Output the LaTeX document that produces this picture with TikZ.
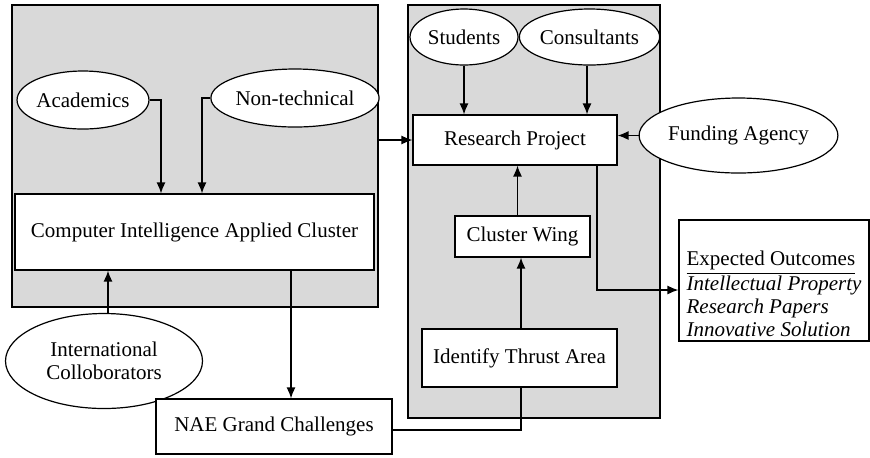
\documentclass[tikz,border=0pt]{standalone}
\usepackage{fontspec}
\setmainfont{Liberation Serif}
\usetikzlibrary{arrows.meta,shapes.geometric}
\definecolor{fondgris}{RGB}{217,217,217}

\begin{document}
\begin{tikzpicture}[x=0.5pt, y=-0.5pt, font=\fontsize{10.5}{11.5}\selectfont,
		panneau/.style={draw, fill=fondgris, line width=0.7pt, inner sep=0pt},
		boite/.style={draw, fill=white, line width=0.6pt, inner sep=0pt, align=center},
		bulle/.style={draw, fill=white, ellipse, line width=0.6pt, inner sep=0pt, align=center},
		fleche/.style={-{Latex[length=5.5pt,width=4.5pt]}, line width=0.65pt}]
	\useasboundingbox (0,0) rectangle (870,457);
	% panneaux gris
	\node[panneau, minimum width=183pt, minimum height=151pt] (gauche) at (195,156) {};
	\node[panneau, minimum width=126pt, minimum height=206.5pt] (droite) at (534,211.5) {};
	% partie gauche
	\node[bulle, minimum width=56.5pt, minimum height=29pt] (academics) at (83,100) {Academics};
	\node[bulle, minimum width=75pt, minimum height=29pt] (nontech) at (295,98) {Non-technical};
	\node[boite, minimum width=179.5pt, minimum height=38pt] (ciac) at (194.5,232) {Computer Intelligence Applied Cluster};
	\node[bulle, minimum width=98.5pt, minimum height=47.5pt] (intl) at (104,361) {International\\Colloborators};
	\node[boite, minimum width=118pt, minimum height=27.5pt] (nae) at (274,426.5) {NAE Grand Challenges};
	% partie droite
	\node[bulle, minimum width=54pt, minimum height=28pt] (students) at (464,37) {Students};
	\node[bulle, minimum width=66.5pt, minimum height=28pt] (consultants) at (589.5,37) {Consultants};
	\node[boite, minimum width=102pt, minimum height=25pt] (rp) at (515,140) {Research Project};
	\node[bulle, minimum width=82.5pt, minimum height=37.5pt] (funding) at (738.5,135.5) {Funding Agency};
	\node[boite, minimum width=67.5pt, minimum height=20.5pt] (wing) at (522.5,236.5) {Cluster Wing};
	\node[boite, minimum width=97.5pt, minimum height=29pt] (thrust) at (519.5,358) {Identify Thrust Area};
	\node[boite, minimum width=95pt, minimum height=60.5pt, align=left] (outcome) at (774,280.5)
		{\raisebox{-8pt}[\height][\depth]{\begin{tabular}{@{}l@{}}\underline{Expected Outcomes}\\
		\itshape Intellectual Property\\ \itshape Research Papers\\ \itshape Innovative Solution\end{tabular}}};
	% liaisons
	\draw[fleche] (academics.east) -| ([xshift=-16.75pt]ciac.north);
	\draw[fleche] (nontech.west) -| ([xshift=3.75pt]ciac.north);
	\draw[fleche] ([xshift=2pt]intl.north) -- ([xshift=2pt]intl.north |- ciac.south);
	\draw[fleche] ([xshift=48.25pt]ciac.south) -- ([xshift=48.25pt]ciac.south |- nae.north);
	\draw[line width=0.65pt] ([yshift=-1.75pt]nae.east) -| ([xshift=0.75pt]thrust.south);
	\draw[fleche] ([xshift=0.75pt]thrust.north) -- ([xshift=0.75pt]thrust.north |- wing.south);
	\draw[fleche] ([xshift=-2.5pt]wing.north) -- ([xshift=-2.5pt]wing.north |- rp.south);
	\draw[fleche] (students.south) -- (students.south |- rp.north);
	\draw[fleche] ([xshift=-1.25pt]consultants.south) -- ([xshift=-1.25pt]consultants.south |- rp.north);
	\draw[fleche] (funding.west) -- (funding.west -| rp.east);
	\draw[fleche] (rp.west -| gauche.east) -- (rp.west);
	\draw[fleche] ([xshift=41pt]rp.south) |- ([yshift=-4.75pt]outcome.west);
\end{tikzpicture}
\end{document}
